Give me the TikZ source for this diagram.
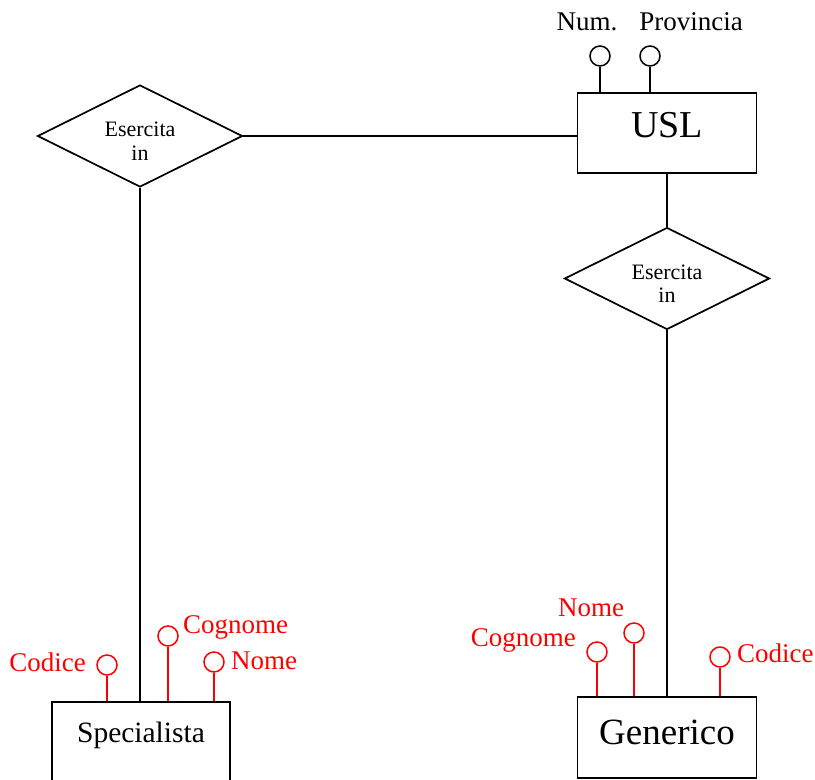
\documentclass[tikz,border=0pt]{standalone}
\usepackage{fontspec}
\setmainfont{Liberation Serif}
\usetikzlibrary{shapes.geometric}
\newcommand{\reltext}[2]{\raisebox{-13pt}[0pt][0pt]{\begin{tabular}{@{}c@{}}#1\\#2\end{tabular}}}
\begin{document}
\begin{tikzpicture}[x=1pt,y=-1pt,
  entity/.style={draw,line width=1.7pt,minimum width=179pt,minimum height=80pt,inner sep=0pt},
  relation/.style={draw,diamond,line width=1.7pt,minimum width=205pt,minimum height=102pt,inner sep=0pt,font=\fontsize{22}{23.5}\selectfont},
  attr/.style={draw,circle,line width=1.5pt,minimum size=20pt,inner sep=0pt},
  redattr/.style={attr,draw=red},
  conn/.style={line width=1.7pt},
  redconn/.style={line width=1.6pt,draw=red},
  lbl/.style={inner sep=0pt,font=\fontsize{27}{31}\selectfont},
  redlbl/.style={lbl,text=red}]
\useasboundingbox (0,0) rectangle (815,780);

% entities
\node[entity,text depth=16pt,font=\fontsize{38}{42}\selectfont] (usl) at (667,133) {USL};
\node[entity,minimum height=81pt,text depth=10pt,font=\fontsize{37}{41}\selectfont] (gen) at (667,737.5) {Generico};
\node[entity,minimum width=178pt,minimum height=84pt,text depth=24pt,font=\fontsize{29.5}{33}\selectfont] (spec) at (141,744) {Specialista};

% relations
\node[relation] (rel1) at (140,136) {\reltext{Esercita}{in}};
\node[relation] (rel2) at (667,278.5) {\reltext{Esercita}{in}};

% connectors
\draw[conn] (rel1.east) -- (usl.west |- rel1.east);
\draw[conn] (usl.south) -- (rel2.north);
\draw[conn] (rel2.south) -- (gen.north);
\draw[conn] (rel1.south) -- (rel1.south |- spec.north);

% USL attributes
\node[attr] (num) at (600,56) {};
\node[attr] (prov) at (650,56) {};
\draw[conn] (num.south) -- (num.south |- usl.north);
\draw[conn] (prov.south) -- (prov.south |- usl.north);
\node[lbl] (numl) at (587,22) {Num.};
\node[lbl] (provl) at (691,22) {Provincia};

% Specialista attributes
\node[redattr] (sc) at (107,665) {};
\node[redattr] (scg) at (168,636) {};
\node[redattr] (sn) at (214,662) {};
\draw[redconn] (sc.south) -- (sc.south |- spec.north);
\draw[redconn] (scg.south) -- (scg.south |- spec.north);
\draw[redconn] (sn.south) -- (sn.south |- spec.north);
\node[redlbl,anchor=east] (scl) at (86,662) {Codice};
\node[redlbl,anchor=west] (scgl) at (183,627) {Cognome};
\node[redlbl,anchor=west] (snl) at (231,661) {Nome};

% Generico attributes
\node[redattr] (gcg) at (597,652) {};
\node[redattr] (gn) at (634,633) {};
\node[redattr] (gc) at (720,657) {};
\draw[redconn] (gcg.south) -- (gcg.south |- gen.north);
\draw[redconn] (gn.south) -- (gn.south |- gen.north);
\draw[redconn] (gc.south) -- (gc.south |- gen.north);
\node[redlbl,anchor=east] (gcgl) at (576,640) {Cognome};
\node[redlbl] (gnl) at (591,608) {Nome};
\node[redlbl,anchor=west] (gcl) at (737,653) {Codice};
\end{tikzpicture}
\end{document}
